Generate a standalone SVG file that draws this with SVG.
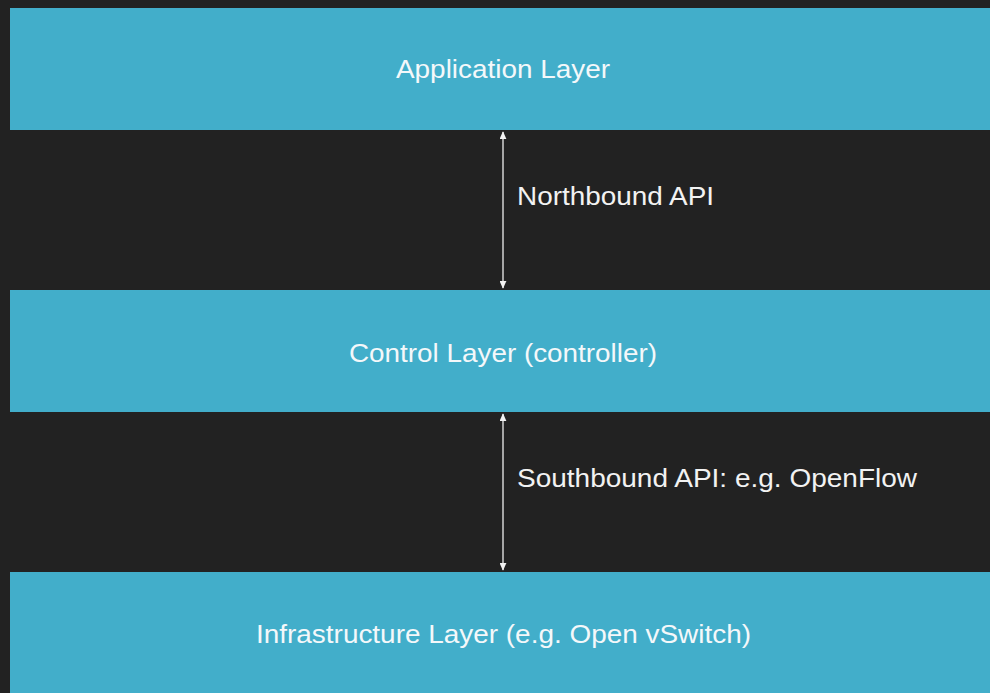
<svg xmlns="http://www.w3.org/2000/svg" width="990" height="693" viewBox="0 0 990 693">
<defs>
<style>
.box{fill:#42AECA;}
.t{font-family:"Liberation Sans",Arial,sans-serif;font-size:25px;fill:#F4F8FA;text-anchor:middle;}
.lbl{font-family:"Liberation Sans",Arial,sans-serif;font-size:25px;fill:#F2F2F2;}
.c{stroke:#EEEEEE;stroke-width:1.3;fill:none;marker-start:url(#ah);marker-end:url(#ah);}
</style>
<marker id="ah" viewBox="0 0 10 10" refX="9" refY="5" markerWidth="8" markerHeight="7" orient="auto-start-reverse" markerUnits="userSpaceOnUse" preserveAspectRatio="none">
<path d="M0,0 L10,5 L0,10 Z" fill="#F2F2F2"/>
</marker>
</defs>
<rect x="0" y="0" width="990" height="693" fill="#222222"/>
<g id="application">
<rect class="box" x="10" y="8" width="980" height="122"/>
<text class="t" x="503" y="78" textLength="214" lengthAdjust="spacingAndGlyphs">Application Layer</text>
</g>
<g id="control">
<rect class="box" x="10" y="290" width="980" height="122"/>
<text class="t" x="503" y="362" textLength="308" lengthAdjust="spacingAndGlyphs">Control Layer (controller)</text>
</g>
<g id="infrastructure">
<rect class="box" x="10" y="572" width="980" height="121"/>
<text class="t" x="503.5" y="643" textLength="495" lengthAdjust="spacingAndGlyphs">Infrastructure Layer (e.g. Open vSwitch)</text>
</g>
<g id="connectors">
<line class="c" x1="503" y1="132" x2="503" y2="288"/>
<line class="c" x1="503" y1="414" x2="503" y2="570"/>
</g>
<g id="labels">
<text class="lbl" x="517" y="205" textLength="197" lengthAdjust="spacingAndGlyphs">Northbound API</text>
<text class="lbl" x="517" y="487" textLength="400" lengthAdjust="spacingAndGlyphs">Southbound API: e.g. OpenFlow</text>
</g>
</svg>
